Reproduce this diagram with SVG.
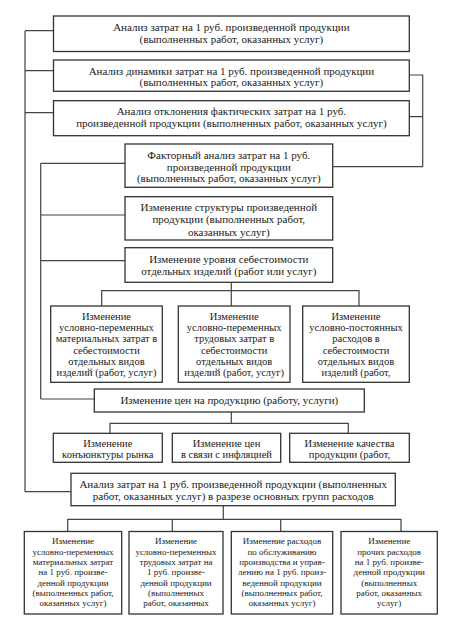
<svg xmlns="http://www.w3.org/2000/svg" width="455" height="639" viewBox="0 0 455 639">
<style>
.b{fill:#fff;stroke:#333;stroke-width:1.3}
.c{fill:none;stroke:#444;stroke-width:1.2}
text{font-family:"Liberation Serif","Times New Roman",serif;fill:#1a1a1a;text-anchor:middle}
.t{font-size:11px}
.m{font-size:10.5px}
.s{font-size:9px}
</style>
<rect width="455" height="639" fill="#fff"/>
<g id="connectors">
<path class="c" d="M25,30.7V491.7M25,30.7H53.5M25,70.7H53.5M25,112.7H53.5M25,491.7H71"/>
<path class="c" d="M409.3,75H422.7V166.7H332.7M409.3,116.7H422.7"/>
<path class="c" d="M40.7,163.3V399M40.7,163.3H125M40.7,215H125M40.7,260.7H125M40.7,399H94.3"/>
<path class="c" d="M231.3,282.3V306M101.7,306V290.7H359V306"/>
<path class="c" d="M231.3,412V423.3M110,433.3V423.3H348.3V433.3"/>
<path class="c" d="M223.3,505.7V519.3M67.7,531.5V519.3H401V531.5M172.3,519.3V531.5M280.7,519.3V531.5"/>
</g>
<g id="n1"><rect class="b" x="53.5" y="16" width="355.8" height="35.5"/>
<text class="t" x="231.4" y="30.5">Анализ затрат на 1 руб. произведенной продукции</text>
<text class="t" x="231.4" y="43">(выполненных работ, оказанных услуг)</text></g>
<g id="n2"><rect class="b" x="53.5" y="60" width="355.8" height="31.3"/>
<text class="t" x="231.4" y="74.5">Анализ динамики затрат на 1 руб. произведенной продукции</text>
<text class="t" x="231.4" y="85.5">(выполненных работ, оказанных услуг)</text></g>
<g id="n3"><rect class="b" x="53.5" y="100.7" width="355.8" height="35"/>
<text class="t" x="231.4" y="114.8">Анализ отклонения фактических затрат на 1 руб.</text>
<text class="t" x="231.4" y="126.5">произведенной продукции (выполненных работ, оказанных услуг)</text></g>
<g id="n4"><rect class="b" x="125" y="144" width="207.7" height="43.3"/>
<text class="t" x="228.8" y="158.8">Факторный анализ затрат на 1 руб.</text>
<text class="t" x="228.8" y="170.5">произведенной продукции</text>
<text class="t" x="228.8" y="182">(выполненных работ, оказанных услуг)</text></g>
<g id="n5"><rect class="b" x="125" y="196.7" width="207.7" height="43.3"/>
<text class="t" x="228.8" y="210.5">Изменение структуры произведенной</text>
<text class="t" x="228.8" y="222.8">продукции (выполненных работ,</text>
<text class="t" x="228.8" y="235.5">оказанных услуг)</text></g>
<g id="n6"><rect class="b" x="125" y="247.7" width="207.7" height="34.6"/>
<text class="t" x="228.8" y="262.8">Изменение уровня себестоимости</text>
<text class="t" x="228.8" y="274.5">отдельных изделий (работ или услуг)</text></g>
<g id="n7"><rect class="b" x="50.7" y="306" width="111.6" height="76.3"/>
<text class="m" x="106.5" y="319.8">Изменение</text>
<text class="m" x="106.5" y="331.1">условно-переменных</text>
<text class="m" x="106.5" y="342.4">материальных затрат в</text>
<text class="m" x="106.5" y="353.7">себестоимости</text>
<text class="m" x="106.5" y="365">отдельных видов</text>
<text class="m" x="106.5" y="376.3">изделий (работ, услуг)</text></g>
<g id="n8"><rect class="b" x="178.3" y="306" width="111.7" height="76.3"/>
<text class="m" x="234.2" y="319.8">Изменение</text>
<text class="m" x="234.2" y="331.1">условно-переменных</text>
<text class="m" x="234.2" y="342.4">трудовых затрат в</text>
<text class="m" x="234.2" y="353.7">себестоимости</text>
<text class="m" x="234.2" y="365">отдельных видов</text>
<text class="m" x="234.2" y="376.3">изделий (работ, услуг)</text></g>
<g id="n9"><rect class="b" x="302.7" y="306" width="106.6" height="76.3"/>
<text class="m" x="356" y="319.8">Изменение</text>
<text class="m" x="356" y="331.1">условно-постоянных</text>
<text class="m" x="356" y="342.4">расходов в</text>
<text class="m" x="356" y="353.7">себестоимости</text>
<text class="m" x="356" y="365">отдельных видов</text>
<text class="m" x="356" y="376.3">изделий (работ,</text></g>
<g id="n10"><rect class="b" x="94.3" y="389" width="270" height="23"/>
<text class="t" x="229.3" y="403.8">Изменение цен на продукцию (работу, услуги)</text></g>
<g id="n11"><rect class="b" x="53.3" y="433.3" width="109" height="29"/>
<text class="m" x="107.8" y="447">Изменение</text>
<text class="m" x="107.8" y="457.8">конъюнктуры рынка</text></g>
<g id="n12"><rect class="b" x="172.3" y="433.3" width="108.4" height="29"/>
<text class="m" x="226.5" y="447">Изменение цен</text>
<text class="m" x="226.5" y="457.8">в связи с инфляцией</text></g>
<g id="n13"><rect class="b" x="289.7" y="433.3" width="119.6" height="29"/>
<text class="m" x="349.5" y="447">Изменение качества</text>
<text class="m" x="349.5" y="457.8">продукции (работ,</text></g>
<g id="n14"><rect class="b" x="71" y="473.3" width="324.3" height="32.4"/>
<text class="t" x="233.2" y="488">Анализ затрат на 1 руб. произведенной продукции (выполненных</text>
<text class="t" x="233.2" y="499.5">работ, оказанных услуг) в разрезе основных групп расходов</text></g>
<g id="n15"><rect class="b" x="24.3" y="531.5" width="97.4" height="82.5"/>
<text class="s" x="73" y="544.3">Изменение</text>
<text class="s" x="73" y="554.6">условно-переменных</text>
<text class="s" x="73" y="564.9">материальных затрат</text>
<text class="s" x="73" y="575.2">на 1 руб. произве-</text>
<text class="s" x="73" y="585.5">денной продукции</text>
<text class="s" x="73" y="595.8">(выполненных работ,</text>
<text class="s" x="73" y="606.1">оказанных услуг)</text></g>
<g id="n16"><rect class="b" x="129" y="531.5" width="94" height="82.5"/>
<text class="s" x="176" y="544.3">Изменение</text>
<text class="s" x="176" y="554.6">условно-переменных</text>
<text class="s" x="176" y="564.9">трудовых затрат на</text>
<text class="s" x="176" y="575.2">1 руб. произве-</text>
<text class="s" x="176" y="585.5">денной продукции</text>
<text class="s" x="176" y="595.8">(выполненных</text>
<text class="s" x="176" y="606.1">работ, оказанных</text></g>
<g id="n17"><rect class="b" x="231.3" y="531.5" width="101.4" height="82.5"/>
<text class="s" x="282" y="544.3">Изменение расходов</text>
<text class="s" x="282" y="554.6">по обслуживанию</text>
<text class="s" x="282" y="564.9">производства и управ-</text>
<text class="s" x="282" y="575.2">лению на 1 руб. произ-</text>
<text class="s" x="282" y="585.5">веденной продукции</text>
<text class="s" x="282" y="595.8">(выполненных работ,</text>
<text class="s" x="282" y="606.1">оказанных услуг)</text></g>
<g id="n18"><rect class="b" x="341" y="531.5" width="96.3" height="82.5"/>
<text class="s" x="389.2" y="544.3">Изменение</text>
<text class="s" x="389.2" y="554.6">прочих расходов</text>
<text class="s" x="389.2" y="564.9">на 1 руб. произве-</text>
<text class="s" x="389.2" y="575.2">денной продукции</text>
<text class="s" x="389.2" y="585.5">(выполненных</text>
<text class="s" x="389.2" y="595.8">работ, оказанных</text>
<text class="s" x="389.2" y="606.1">услуг)</text></g>
</svg>
